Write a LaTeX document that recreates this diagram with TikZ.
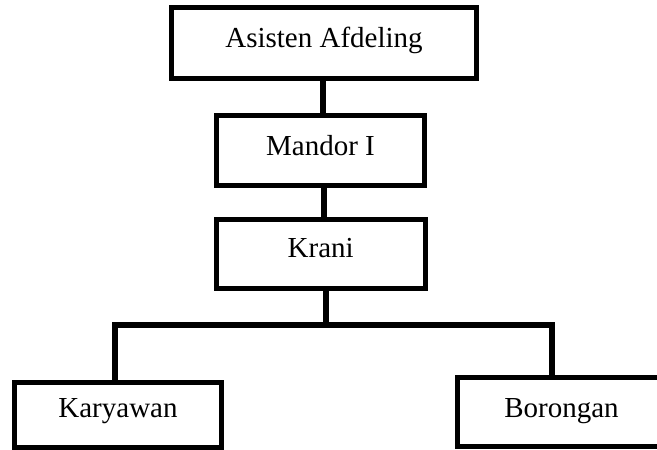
\documentclass[tikz,border=0pt]{standalone}
\usepackage{fontspec}
\setmainfont{Liberation Serif}
\begin{document}
\begin{tikzpicture}[x=1pt,y=-1pt,
  box/.style={draw=black, line width=5pt, fill=white, inner sep=0pt,
    font=\fontsize{29pt}{34pt}\selectfont, text height=20pt},
  link/.style={draw=black, line width=6.5pt, line join=miter}]
  \useasboundingbox (0,0) rectangle (657,450);

  % positions
  \node[box, minimum width=305pt, minimum height=71pt, text depth=12pt]
    (asisten) at (324,43) {Asisten Afdeling};
  \node[box, minimum width=208pt, minimum height=70pt, text depth=10pt]
    (mandor) at (320.5,150) {Mandor I};
  \node[box, minimum width=208.5pt, minimum height=69pt, text depth=13pt]
    (krani) at (320.75,253.5) {Krani};
  \node[box, minimum width=207pt, minimum height=65pt, text depth=15pt]
    (karyawan) at (118,414.5) {Karyawan};
  \node[box, minimum width=209pt, minimum height=69pt, text depth=9pt]
    (borongan) at (561.5,411.5) {Borongan};

  \coordinate (hub) at (326,325);

  % vertical chain
  \draw[link] ([xshift=-1pt]asisten.south) -- ([xshift=-1pt]asisten.south |- mandor.north);
  \draw[link] ([xshift=3.5pt]mandor.south) -- ([xshift=3.5pt]mandor.south |- krani.north);
  \draw[link] ([xshift=5.25pt]krani.south) -- ([xshift=5.25pt]krani.south |- hub);

  % branch to the two lower boxes
  \draw[link] ([xshift=-3pt]karyawan.north) |- ([xshift=-9.5pt]borongan.north |- hub)
    -- ([xshift=-9.5pt]borongan.north);
\end{tikzpicture}
\end{document}
